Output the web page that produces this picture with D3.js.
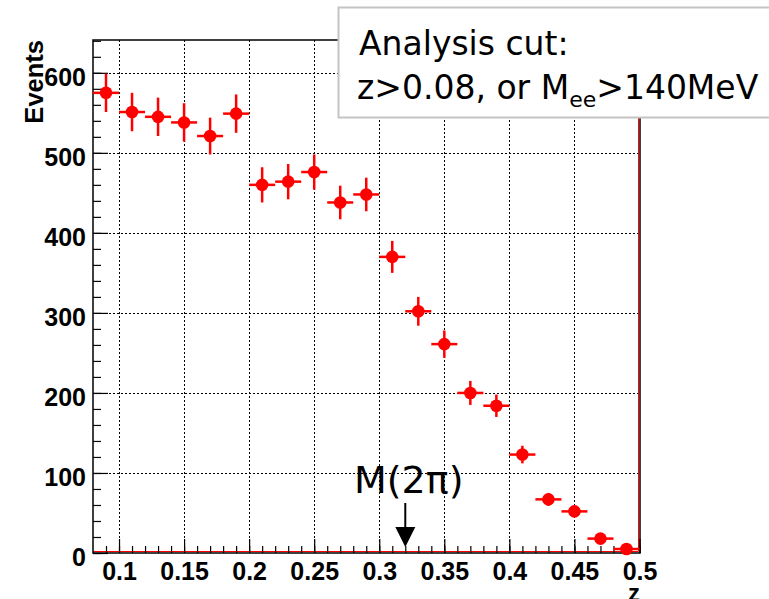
<!DOCTYPE html>
<html>
<head>
<meta charset="utf-8">
<script src="https://cdn.jsdelivr.net/npm/d3@7/dist/d3.min.js"></script>
<style>
  html, body { margin: 0; padding: 0; background: #fff; }
  svg { display: block; }
</style>
</head>
<body>
<svg id="chart" width="769" height="599"></svg>
<script>
// ---- data ----
const binCenters = [0.09, 0.11, 0.13, 0.15, 0.17, 0.19, 0.21, 0.23, 0.25, 0.27, 0.29,
                    0.31, 0.33, 0.35, 0.37, 0.39, 0.41, 0.43, 0.45, 0.47, 0.49];
const events     = [575, 551, 545, 538, 521, 549, 460, 464, 476, 438, 448,
                    370, 302, 261, 200, 184, 123, 67, 52, 18, 5];
const errors     = [24, 24, 24, 24, 23, 24, 22, 22, 22, 21, 21,
                    20, 18, 17, 15, 14, 11, 8, 7, 4, 2];
const binHalfWidth = 0.01;
const xTicks = [0.1, 0.15, 0.2, 0.25, 0.3, 0.35, 0.4, 0.45, 0.5];
const xTickLabels = ["0.1", "0.15", "0.2", "0.25", "0.3", "0.35", "0.4", "0.45", "0.5"];
const xMinorTicks = d3.range(9, 51).map(i => i / 100);
const yTicks = [0, 100, 200, 300, 400, 500, 600];
const yMinorTicks = d3.range(0, 641, 20);
const xDomain = [0.08, 0.5];
const yDomain = [0, 641];
const cutMarker = 0.32;
const legendLine1 = "Analysis cut:";
const legendLine2a = "z>0.08, or M";
const legendSub = "ee";
const legendLine2b = ">140MeV";
const arrowLabel = "M(2π)";
const xTitle = "z";
const yTitle = "Events";

// ---- layout ----
const L = 93, R = 640, T = 40, B = 553;
const svg = d3.select("#chart");
const x = d3.scaleLinear().domain(xDomain).range([L, 639.5]);
const y = d3.scaleLinear().domain(yDomain).range([B, T]);

// grid
const grid = svg.append("g").attr("stroke", "#000").attr("stroke-width", 1)
  .attr("stroke-dasharray", "2,2");
grid.selectAll("line.gx").data(xTicks.filter(v => v < 0.5)).join("line")
  .attr("x1", d => Math.round(x(d)) + 0.5).attr("x2", d => Math.round(x(d)) + 0.5)
  .attr("y1", T).attr("y2", B);
grid.selectAll("line.gy").data(yTicks.filter(v => v > 0)).join("line")
  .attr("y1", d => Math.round(y(d)) + 0.5).attr("y2", d => Math.round(y(d)) + 0.5)
  .attr("x1", L).attr("x2", R);

// red histogram outline
svg.append("path")
  .attr("d", `M${L},551.5H638.5V${T}`)
  .attr("fill", "none").attr("stroke", "#ff0000").attr("stroke-width", 1);

// axes
const fontAxis = "'Liberation Sans', Arial, Helvetica, sans-serif";
const xAxisMajor = d3.axisBottom(x).tickValues(xTicks).tickSize(-14)
  .tickPadding(10).tickFormat((d, i) => xTickLabels[i]);
const xAxisMinor = d3.axisBottom(x).tickValues(xMinorTicks).tickSize(-7).tickFormat("");
const yAxisMajor = d3.axisLeft(y).tickValues(yTicks).tickSize(-15).tickPadding(7)
  .tickFormat(d3.format("d"));
const yAxisMinor = d3.axisLeft(y).tickValues(yMinorTicks).tickSize(-8).tickFormat("");

function styleAxis(g) {
  g.select(".domain").remove();
  g.selectAll(".tick line").attr("stroke", "#000").attr("stroke-width", 1.2);
  g.selectAll("text").attr("fill", "#000").attr("font-family", fontAxis)
    .attr("font-weight", "bold").attr("font-size", 25);
}
svg.append("g").attr("transform", `translate(0,${B})`).call(xAxisMinor).call(styleAxis);
svg.append("g").attr("transform", `translate(0,${B})`).call(xAxisMajor).call(styleAxis)
  .selectAll("text").attr("dy", "0.71em").attr("y", 9);
svg.append("g").attr("transform", `translate(${L},0)`).call(yAxisMinor).call(styleAxis);
svg.append("g").attr("transform", `translate(${L},0)`).call(yAxisMajor).call(styleAxis)
  .selectAll("text").attr("dy", "0.5em").attr("font-size", 25);

// frame
svg.append("rect").attr("x", L).attr("y", T).attr("width", R - L).attr("height", B - T)
  .attr("fill", "none").attr("stroke", "#000").attr("stroke-width", 1.5);

// data points
const pts = svg.append("g");
const rows = binCenters.map((c, i) => ({ c, v: events[i], e: errors[i] }));
pts.selectAll("line.h").data(rows).join("line")
  .attr("x1", d => x(d.c - binHalfWidth)).attr("x2", d => x(d.c + binHalfWidth))
  .attr("y1", d => y(d.v)).attr("y2", d => y(d.v))
  .attr("stroke", "#ff0000").attr("stroke-width", 2.5);
pts.selectAll("line.v").data(rows).join("line")
  .attr("x1", d => x(d.c)).attr("x2", d => x(d.c))
  .attr("y1", d => y(d.v - d.e)).attr("y2", d => y(d.v + d.e))
  .attr("stroke", "#ff0000").attr("stroke-width", 2.5);
pts.selectAll("circle").data(rows).join("circle")
  .attr("cx", d => x(d.c)).attr("cy", d => y(d.v)).attr("r", 6.3)
  .attr("fill", "#ff0000");

// axis titles
svg.append("text").attr("x", R).attr("y", 601).attr("text-anchor", "end")
  .attr("font-family", fontAxis).attr("font-weight", "bold").attr("font-size", 24)
  .text(xTitle);
svg.append("text").attr("transform", `translate(43,${T}) rotate(-90)`)
  .attr("text-anchor", "end")
  .attr("font-family", fontAxis).attr("font-weight", "bold").attr("font-size", 25.5)
  .text(yTitle);

// arrow M(2pi)
const ax = x(cutMarker);
svg.append("line").attr("x1", ax).attr("x2", ax).attr("y1", 503).attr("y2", 530)
  .attr("stroke", "#000").attr("stroke-width", 2);
svg.append("path").attr("d", `M${ax - 10},527L${ax + 10},527L${ax},547Z`).attr("fill", "#000");
svg.append("text").attr("x", 354).attr("y", 493)
  .attr("font-family", "'DejaVu Sans', Verdana, sans-serif").attr("font-size", 38)
  .text(arrowLabel);

// legend box
const fontLeg = "'DejaVu Sans', Verdana, sans-serif";
svg.append("rect").attr("x", 338.5).attr("y", 7.5).attr("width", 440).attr("height", 110)
  .attr("fill", "#fff").attr("stroke", "#c4c4c4").attr("stroke-width", 2);
svg.append("text").attr("x", 359).attr("y", 55).attr("font-family", fontLeg)
  .attr("font-size", 33).text(legendLine1);
const l2 = svg.append("text").attr("x", 357).attr("y", 99).attr("font-family", fontLeg)
  .attr("font-size", 33);
l2.append("tspan").text(legendLine2a);
l2.append("tspan").attr("font-size", 22).attr("dy", 8).text(legendSub);
l2.append("tspan").attr("dy", -8).text(legendLine2b);
</script>
</body>
</html>
